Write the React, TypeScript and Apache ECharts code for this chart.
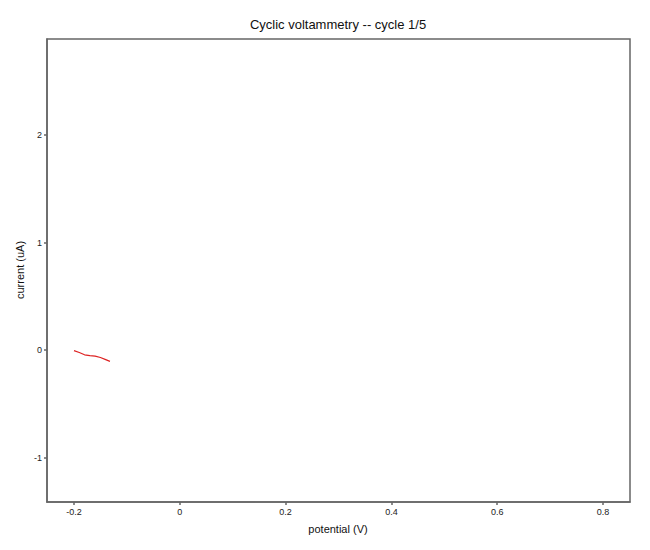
import React, { useEffect, useRef } from 'react';
import * as echarts from 'echarts';

// potential (V) / current (uA)
const potential = [-0.2, -0.19, -0.18, -0.17, -0.16, -0.15, -0.14, -0.132];
const current = [-0.004, -0.022, -0.043, -0.05, -0.055, -0.068, -0.088, -0.104];

const xTicks = [-0.2, 0, 0.2, 0.4, 0.6, 0.8];
const yTicks = [-1, 0, 1, 2];

const frameColor = '#666';
const font = 'Liberation Sans, Arial, sans-serif';

const App: React.FC = () => {
	const chartRef = useRef<HTMLDivElement>(null);

	useEffect(() => {
		if (!chartRef.current) return;
		const chart = echarts.init(chartRef.current, undefined, { renderer: 'svg' });

		const option: echarts.EChartsOption = {
			animation: false,
			textStyle: { fontFamily: font },
			grid: {
				left: 47,
				right: 20,
				top: 39,
				bottom: 48,
				show: true,
				borderColor: frameColor,
				borderWidth: 1.5,
				backgroundColor: '#fff'
			},
			graphic: [
				{
					type: 'text',
					x: 338,
					y: 24,
					style: {
						text: 'Cyclic voltammetry -- cycle 1/5',
						font: `13px ${font}`,
						fill: '#111',
						align: 'center',
						verticalAlign: 'middle'
					}
				},
				{
					type: 'text',
					x: 338,
					y: 529,
					style: {
						text: 'potential (V)',
						font: `11px ${font}`,
						fill: '#111',
						align: 'center',
						verticalAlign: 'middle'
					}
				},
				{
					type: 'text',
					x: 20,
					y: 270,
					rotation: Math.PI / 2,
					style: {
						text: 'current (uA)',
						font: `11px ${font}`,
						fill: '#111',
						align: 'center',
						verticalAlign: 'middle'
					}
				}
			],
			xAxis: {
				type: 'value',
				min: -0.251,
				max: 0.851,
				splitLine: { show: false },
				axisLine: { show: true, onZero: false, lineStyle: { color: frameColor, width: 1.5 } },
				axisTick: {
					show: true,
					length: 3,
					customValues: xTicks,
					lineStyle: { color: frameColor, width: 1.5 }
				},
				axisLabel: {
					customValues: xTicks,
					color: '#222',
					fontSize: 9,
					margin: 5,
					formatter: (v: number) => String(v)
				}
			},
			yAxis: {
				type: 'value',
				min: -1.41,
				max: 2.89,
				splitLine: { show: false },
				axisLine: { show: true, onZero: false, lineStyle: { color: frameColor, width: 1.5 } },
				axisTick: {
					show: true,
					length: 3,
					customValues: yTicks,
					lineStyle: { color: frameColor, width: 1.5 }
				},
				axisLabel: {
					customValues: yTicks,
					color: '#222',
					fontSize: 9,
					margin: 5,
					formatter: (v: number) => String(v)
				}
			},
			series: [
				{
					type: 'line',
					data: potential.map((p, i) => [p, current[i]]),
					symbol: 'none',
					lineStyle: { color: '#dd2222', width: 1.2 },
					itemStyle: { color: '#dd2222' }
				}
			]
		};

		chart.setOption(option);
		return () => {
			chart.dispose();
		};
	}, []);

	return (
		<div
			ref={chartRef}
			style={{ position: 'fixed', left: 0, top: 0, width: '650px', height: '550px', background: '#fff' }}
		/>
	);
};

export default App;
